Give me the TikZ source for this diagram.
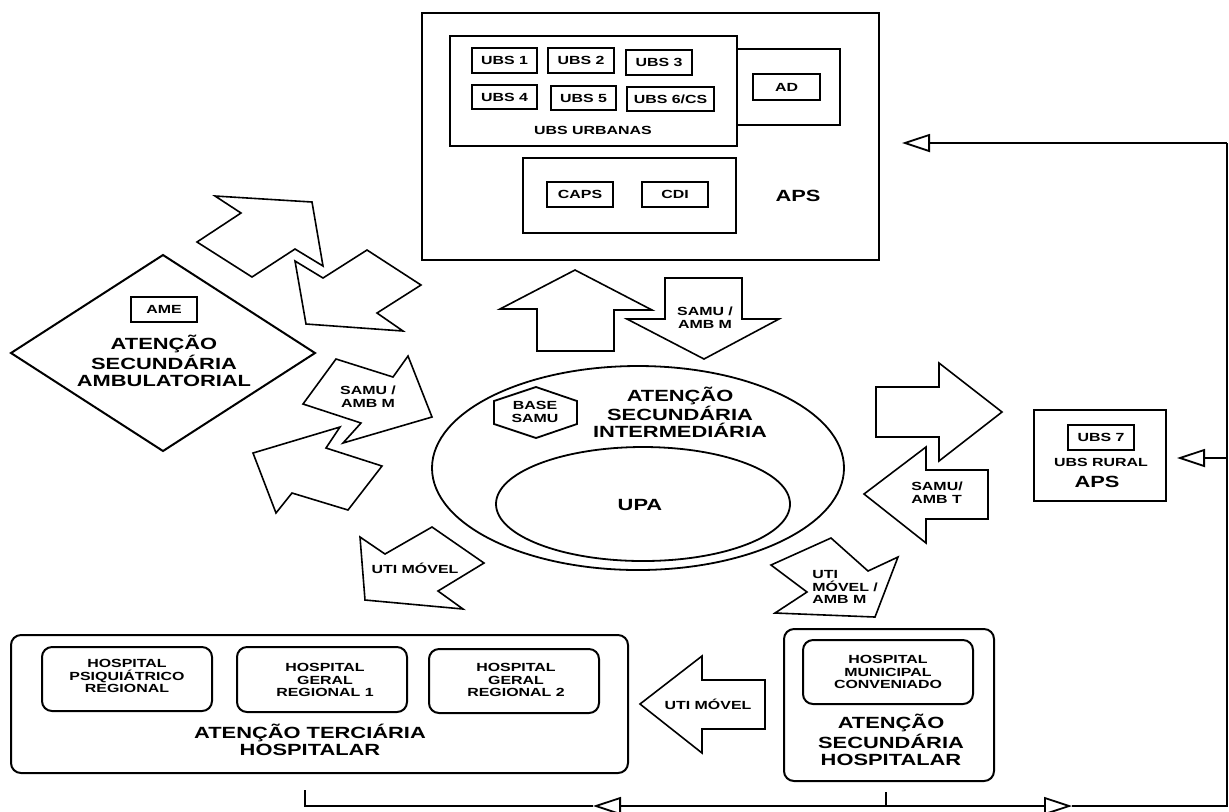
\documentclass[tikz,border=0pt]{standalone}
\usepackage{fontspec}
\newfontfamily\diagfont[FakeStretch=1.35]{Liberation Sans}
\usetikzlibrary{arrows.meta}
\begin{document}
\begin{tikzpicture}[x=0.5pt, y=-0.5pt,
    box/.style={draw, line width=1pt},
    rbox/.style={draw, line width=1pt, rounded corners=5pt},
    blockarrow/.style={draw, line width=0.8pt, line join=miter},
    small/.style={font=\diagfont\bfseries\fontsize{5.9pt}{6.3pt}\selectfont, align=center, inner sep=0pt},
    big/.style={font=\diagfont\bfseries\fontsize{8.1pt}{8.3pt}\selectfont, align=center, inner sep=0pt},
    flow/.style={line width=0.9pt},
    opentip/.style={-{Triangle[open, length=14pt, width=9pt]}}]
    \useasboundingbox (0,0) rectangle (1229,811);

    % APS (top)
    \draw[box] (422,13) rectangle (879,260);
    \draw[box] (450,36) rectangle (737,146);
    \draw[box] (737,49) rectangle (840,125);
    \draw[box] (753,74) rectangle (820,100);
    \node[small] (ad) at (786.5,87) {AD};
    \draw[box] (472,48) rectangle (537,73);
    \node[small] (ubs1) at (504.5,60.5) {UBS 1};
    \draw[box] (548,48) rectangle (614,73);
    \node[small] (ubs2) at (581,60.5) {UBS 2};
    \draw[box] (626,50) rectangle (692,75);
    \node[small] (ubs3) at (659,62.5) {UBS 3};
    \draw[box] (472,85) rectangle (537,109);
    \node[small] (ubs4) at (504.5,97) {UBS 4};
    \draw[box] (551,86) rectangle (616,110);
    \node[small] (ubs5) at (583.5,98) {UBS 5};
    \draw[box] (627,87) rectangle (714,111);
    \node[small] (ubs6) at (670.5,99) {UBS 6/CS};
    \node[small] (urbanas) at (593,130) {UBS URBANAS};
    \draw[box] (523,158) rectangle (736,233);
    \draw[box] (547,182) rectangle (613,207);
    \node[small] (caps) at (580,194.5) {CAPS};
    \draw[box] (642,182) rectangle (708,207);
    \node[small] (cdi) at (675,194.5) {CDI};
    \node[big] (aps) at (798,196) {APS};

    % ambulatorial
    \draw[box] (11,353) -- (163,255) -- (315,353) -- (163,451) -- cycle;
    \draw[box] (131,297) rectangle (197,322);
    \node[small] (ame) at (164,309.5) {AME};
    \node[big] (ambul) at (164,361) {ATENÇÃO\\SECUNDÁRIA\\AMBULATORIAL};

    % intermediaria
    \draw[line width=0.9pt] (638,468) ellipse [x radius=206, y radius=102];
    \draw[line width=0.9pt] (643,504) ellipse [x radius=147, y radius=57];
    \draw[line width=0.9pt] (494,401) -- (536,387) -- (577,401) -- (577,424) -- (536,438) -- (494,424) -- cycle;
    \node[small] (base) at (535,412) {BASE\\SAMU};
    \node[big] (interm) at (680,412) {ATENÇÃO\\SECUNDÁRIA\\INTERMEDIÁRIA};
    \node[big] (upa) at (640,505) {UPA};

    % block arrows
    \draw[blockarrow] (575,270) -- (652,310) -- (614,310) -- (614,351) -- (537,351) -- (537,309) -- (500,309) -- cycle;
    \draw[blockarrow] (665,278) -- (742,278) -- (742,319) -- (779,319) -- (704,359) -- (627,319) -- (665,319) -- cycle;
    \node[small] (samuDown) at (705,318) {SAMU /\\AMB M};
    \draw[blockarrow] (215,196) -- (312,202) -- (323,266) -- (295,249) -- (252,277) -- (197,242) -- (241,213) -- cycle;
    \draw[blockarrow] (295,261) -- (323,278) -- (367,250) -- (421,285) -- (377,313) -- (403,331) -- (306,324) -- cycle;
    \draw[blockarrow] (336,359) -- (393,377) -- (408,356) -- (432,417) -- (343,443) -- (361,423) -- (303,404) -- cycle;
    \node[small] (samuLeft) at (368,397) {SAMU /\\AMB M};
    \draw[blockarrow] (253,453) -- (340,427) -- (326,448) -- (382,466) -- (348,510) -- (292,493) -- (276,513) -- cycle;
    \draw[blockarrow] (360,537) -- (385,554) -- (432,527) -- (484,563) -- (438,591) -- (463,609) -- (365,600) -- cycle;
    \node[small] (utiLeft) at (415,568) {UTI MÓVEL};
    \draw[blockarrow] (771,565) -- (831,538) -- (868,571) -- (898,557) -- (875,617) -- (775,613) -- (807,592) -- cycle;
    \node[small, anchor=west, align=left] (utiRight) at (812,587) {UTI\\MÓVEL /\\AMB M};
    \draw[blockarrow] (876,387) -- (939,387) -- (939,363) -- (1002,412) -- (939,461) -- (939,437) -- (876,437) -- cycle;
    \draw[blockarrow] (864,494) -- (926,447) -- (926,470) -- (988,470) -- (988,519) -- (926,519) -- (926,543) -- cycle;
    \node[small, align=left] (samuRight) at (937,493) {SAMU/\\AMB T};
    \draw[blockarrow] (640,704) -- (702,656) -- (702,680) -- (765,680) -- (765,729) -- (702,729) -- (702,753) -- cycle;
    \node[small] (utiBottom) at (708,704) {UTI MÓVEL};

    % UBS rural
    \draw[box] (1034,410) rectangle (1166,501);
    \draw[box] (1068,425) rectangle (1134,450);
    \node[small] (ubs7) at (1101,437.5) {UBS 7};
    \node[small] (rural) at (1101,462) {UBS RURAL};
    \node[big] (apsRural) at (1097,482) {APS};

    % terciaria
    \draw[rbox] (11,635) rectangle (628,773);
    \draw[rbox] (42,647) rectangle (212,711);
    \node[small] (psiq) at (127,676) {HOSPITAL\\PSIQUIÁTRICO\\REGIONAL};
    \draw[rbox] (237,647) rectangle (407,712);
    \node[small] (geral1) at (325,680) {HOSPITAL\\GERAL\\REGIONAL 1};
    \draw[rbox] (429,649) rectangle (599,713);
    \node[small] (geral2) at (516,680) {HOSPITAL\\GERAL\\REGIONAL 2};
    \node[big] (terc) at (310,740) {ATENÇÃO TERCIÁRIA\\HOSPITALAR};

    % secundaria hospitalar
    \draw[rbox] (784,629) rectangle (994,781);
    \draw[rbox] (803,640) rectangle (973,704);
    \node[small] (munic) at (888,672) {HOSPITAL\\MUNICIPAL\\CONVENIADO};
    \node[big] (secHosp) at (891,740) {ATENÇÃO\\SECUNDÁRIA\\HOSPITALAR};

    % contra-referencia
    \coordinate (stubTop) at (886,792);
    \coordinate (stubBot) at (886,806);
    \coordinate (tipR) at (1072,806);
    \coordinate (cornerBR) at (1227,806);
    \coordinate (cornerTR) at (1227,143);
    \coordinate (tipAps) at (902,143);
    \coordinate (ruralJ) at (1227,458);
    \coordinate (tipRural) at (1177,458);
    \coordinate (tipL) at (593,806);
    \coordinate (cornerBL) at (305,806);
    \coordinate (stubL) at (305,790);
    \draw[flow] (stubTop) -- (stubBot);
    \draw[flow, opentip] (stubBot) -- (tipR);
    \draw[flow] (tipR) -- (cornerBR) -- (cornerTR);
    \draw[flow, opentip] (cornerTR) -- (tipAps);
    \draw[flow, opentip] (ruralJ) -- (tipRural);
    \draw[flow, opentip] (stubBot) -- (tipL);
    \draw[flow] (tipL) -- (cornerBL) -- (stubL);
\end{tikzpicture}
\end{document}
